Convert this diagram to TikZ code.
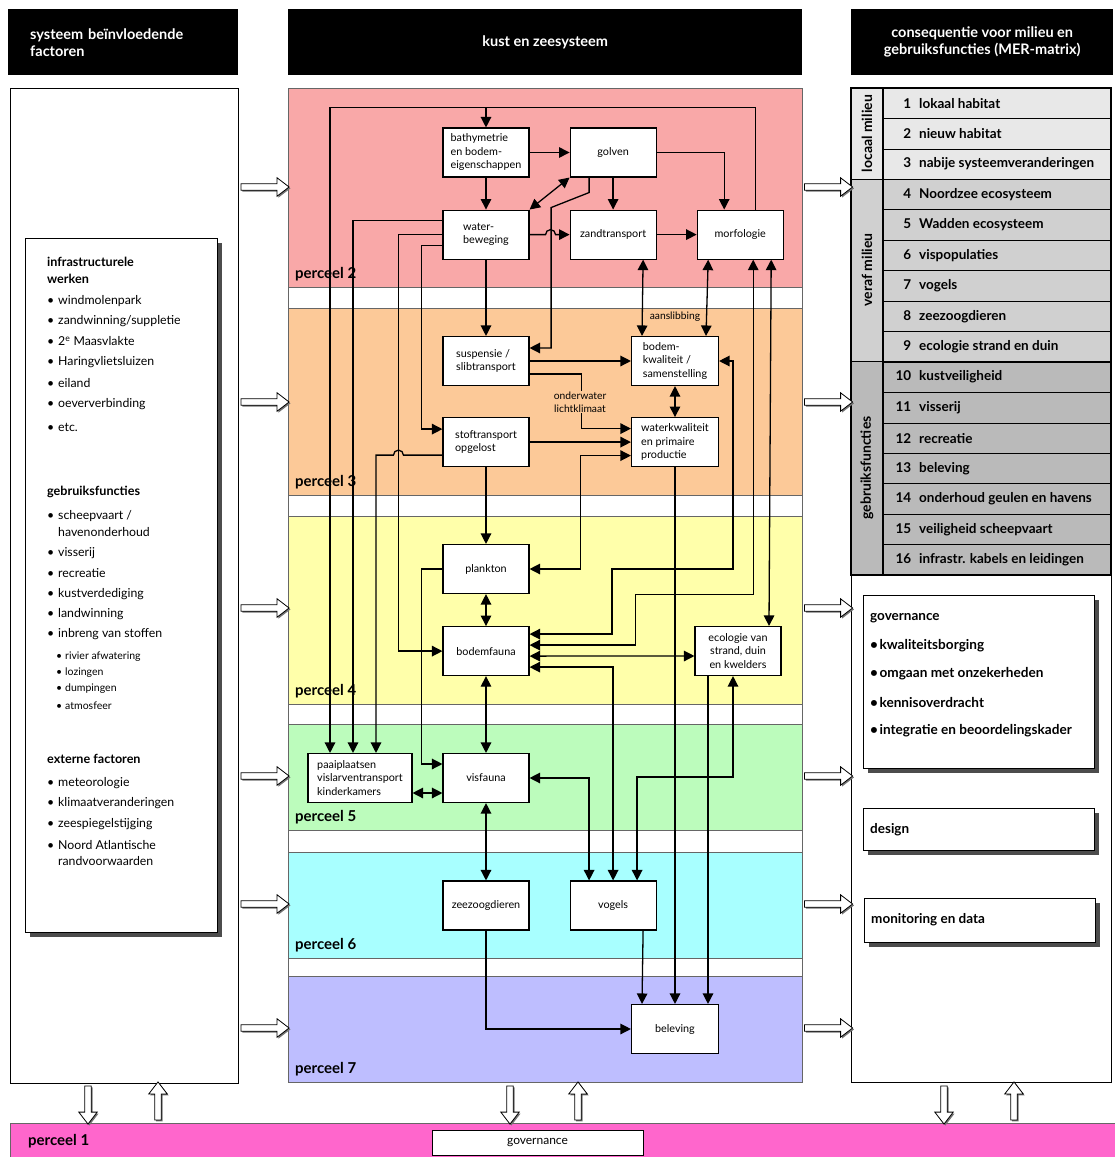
\documentclass[tikz,border=0pt]{standalone}
\usepackage{fontspec}
\setmainfont{Lato}
\usetikzlibrary{positioning,arrows.meta,shapes.arrows,shadows}

\definecolor{p1}{RGB}{255,102,204}
\definecolor{p2}{RGB}{249,168,168}
\definecolor{p3}{RGB}{252,201,152}
\definecolor{p4}{RGB}{255,255,170}
\definecolor{p5}{RGB}{188,252,188}
\definecolor{p6}{RGB}{168,255,255}
\definecolor{p7}{RGB}{190,190,255}
\definecolor{mlicht}{RGB}{232,232,232}
\definecolor{mmid}{RGB}{208,208,208}
\definecolor{mdonker}{RGB}{186,186,186}

\newcommand{\kbul}{\llap{\textbullet\hspace{4pt}}}

\begin{document}
\begin{tikzpicture}[x=1pt, y=-1pt,
  box/.style={draw, fill=white, line width=1.1pt, minimum width=86pt, minimum height=49pt, align=left, inner sep=2pt, font=\fontsize{10.8}{13.5}\selectfont},
  con/.style={line width=1.3pt},
  fat/.style={single arrow, draw, fill=white, line width=0.8pt, minimum height=48pt, single arrow head extend=6pt, single arrow tip angle=75, inner sep=2.8pt, drop shadow={shadow xshift=1.4pt, shadow yshift=-1.4pt, fill=black!55, opacity=1}},
  kop/.style={fill=black, text=white, font=\fontsize{14.5}{17}\selectfont\bfseries, minimum height=66pt, anchor=north west},
  perc/.style={anchor=base west, font=\fontsize{15}{17}\selectfont\bfseries, inner sep=0pt},
  lijst/.style={anchor=west, inner sep=0pt, font=\fontsize{12.3}{14}\selectfont},
  kopje/.style={anchor=west, inner sep=0pt, font=\fontsize{12.6}{14}\selectfont\bfseries},
  sublijst/.style={anchor=west, inner sep=0pt, font=\fontsize{10.5}{12}\selectfont},
  kader/.style={draw, fill=white, line width=1pt, drop shadow={shadow xshift=5pt, shadow yshift=-5pt, fill=black!70, opacity=1}},
  rij/.style={anchor=west, inner sep=0pt, font=\fontsize{13.5}{15}\selectfont\bfseries},
  groep/.style={rotate=90, font=\fontsize{14}{16}\selectfont\bfseries},
  >={Triangle[length=10.5pt, width=10.5pt]}]
\useasboundingbox (0,0) rectangle (1115,1157);

% kopjes
\node[kop, minimum width=230pt, text width=186pt, inner xsep=22pt, align=left] (kopL) at (8,9) {systeem beïnvloedende\\factoren};
\node[kop, minimum width=514pt, align=center] (kopM) at (288,9) {kust en zeesysteem};
\node[kop, minimum width=262pt, align=center] (kopR) at (851,9) {consequentie voor milieu en\\gebruiksfuncties (MER-matrix)};

% linker kolom
\draw[line width=1pt, fill=white] (10,88) rectangle (238,1083);
\draw[kader] (25,238) rectangle (217,932);
\node[kopje] (infra1) at (47,262) {infrastructurele};
\node[kopje] (infra2) at (47,279) {werken};
\node[kopje] (gebr) at (47,492) {gebruiksfuncties};
\node[kopje] (extern) at (47,759) {externe factoren};
\foreach \y/\t [count=\n] in {301/{\kbul windmolenpark}, 321/{\kbul zandwinning/suppletie},
    341/{\kbul 2\textsuperscript{e} Maasvlakte}, 362/{\kbul Haringvlietsluizen}, 383/{\kbul eiland},
    404/{\kbul oeververbinding}, 427/{\kbul etc.}, 516/{\kbul scheepvaart /}, 532/{havenonderhoud},
    553/{\kbul visserij}, 573/{\kbul recreatie}, 594/{\kbul kustverdediging}, 614/{\kbul landwinning},
    634/{\kbul inbreng van stoffen}, 783/{\kbul meteorologie}, 803/{\kbul klimaatveranderingen},
    824/{\kbul zeespiegelstijging}, 845/{\kbul Noord Atlantische}, 861/{randvoorwaarden}}
  \node[lijst] (item\n) at (58,\y) {\t};
\foreach \y/\t [count=\n] in {657/rivier afwatering, 673/lozingen, 689/dumpingen, 706/atmosfeer}
  \node[sublijst] (sub\n) at (65,\y) {\llap{\textbullet\hspace{3pt}}\t};

% middelste kolom: percelen
\foreach \c/\t/\b/\n in {p2/88/287/2, p3/308/495/3, p4/516/704/4, p5/724/830/5, p6/852/958/6, p7/976/1082/7} {
  \draw[fill=\c, draw=black!60, line width=0.6pt] (288,\t) rectangle (802,\b);
  \node[perc] (perc\n) at (295,\b-9) {perceel \n};
}
\draw[draw=black!60, line width=0.8pt] (288,88) rectangle (802,1082);

% boxen
\node[box] (bathy) at (486,152.5) {bathymetrie\\en bodem-\\eigenschappen};
\node[box, right=40pt of bathy] (golven) {golven};
\node[box, below=32pt of bathy] (waterbew) {water-\\beweging};
\node[box, right=40pt of waterbew] (zand) {zandtransport};
\node[box, right=40pt of zand] (morf) {morfologie};
\node[box] (susp) at (486,361) {suspensie /\\slibtransport};
\node[box, minimum width=87pt] (bodemkw) at (675,361) {bodem-\\kwaliteit /\\samenstelling};
\node[box, below=31pt of susp] (stof) {stoftransport\\opgelost};
\node[box, minimum width=87pt, below=31pt of bodemkw] (waterkw) {waterkwaliteit\\en primaire\\productie};
\node[box] (plankton) at (486,569) {plankton};
\node[box, below=32pt of plankton] (bodemf) {bodemfauna};
\node[box, align=center] (ecol) at (738,651) {ecologie van\\strand, duin\\en kwelders};
\node[box] (visf) at (486,778) {visfauna};
\node[box, minimum width=104pt] (paai) at (360,778) {paaiplaatsen\\vislarventransport\\kinderkamers};
\node[box] (zeez) at (486,905.5) {zeezoogdieren};
\node[box, right=40pt of zeez] (vogels) {vogels};
\node[box, minimum width=87pt] (belev) at (675,1029) {beleving};

% verbindingen perceel 2
\draw[con,->] ([xshift=15pt]morf.north) |- ([yshift=20pt]bathy.north) -- (bathy.north);
\draw[con,->] ([yshift=20pt]bathy.north) -| ([xshift=-30pt]paai.north);
\draw[con,->] (bathy) -- (golven);
\draw[con,->] (bathy) -- (waterbew);
\draw[con,<->] (waterbew.north east) -- (golven.south west);
\draw[con,->] (golven) -| ([xshift=-16pt]morf.north);
\draw[con,->] (golven) -- (zand);
\draw[con,->] ([xshift=-24pt]golven.south) -- ++(0,15) -- ++(-38,15) |- ([yshift=13pt]susp.east);
\draw[con,->] (waterbew.east) -- ++(16,0) arc[start angle=180, end angle=360, radius=5] -- (zand);
\draw[con,->] (zand) -- (morf);
\draw[con,->] ([yshift=14pt]waterbew.west) -| ([xshift=-7pt]paai.north);
\draw[con,->] (waterbew.west) -- ++(-44,0) |- (bodemf.west);
\draw[con,->] ([yshift=-11pt]waterbew.west) -- ++(-21,0) |- ([yshift=13pt]stof.west);
\draw[con,->] (waterbew) -- (susp);
\draw[con,<->] ([xshift=30pt]zand.south) -- ([xshift=-33pt]bodemkw.north);
\draw[con,<->] ([xshift=-32pt]morf.south) -- ([xshift=31pt]bodemkw.north);
\draw[con,<->] ([xshift=31pt]morf.south) -- ([xshift=31pt]ecol.north);
\draw[con,<->] ([xshift=13pt]morf.south) -- ++(0,335) -- ++(-118,0) |- ([yshift=6pt]bodemf.east);
\node[font=\fontsize{10.3}{12}\selectfont, inner sep=0pt] (aanslib) at (675,317) {aanslibbing};

% verbindingen perceel 3
\draw[con,->] (susp) -- (bodemkw);
\draw[con,->] ([yshift=-13pt]susp.east) -- ++(52,0) |- ([yshift=13.5pt]waterkw.west);
\node[fill=p3, font=\fontsize{10.3}{13}\selectfont, align=center, inner sep=1pt] (licht) at (580,402) {onderwater\\lichtklimaat};
\draw[con,<->] (bodemkw) -- (waterkw);
\draw[con,->] (stof) -- (waterkw);
\draw[con,->] ([yshift=-13pt]stof.west) -- ++(-39,0) arc[start angle=0, end angle=-180, radius=5] -| ([xshift=16pt]paai.north);
\draw[con,<->] (bodemkw.east) -- ++(14,0) -- ++(0,208) -- ++(-121,0) |- ([yshift=17pt]bodemf.east);
\draw[con,<->] (plankton.east) -- ++(51,0) |- ([yshift=-13.5pt]waterkw.west);
\draw[con,->] (stof) -- (plankton);
\draw[con,->] (waterkw) -- (belev);

% verbindingen perceel 4
\draw[con,<->] (plankton) -- (bodemf);
\draw[con,->] (plankton.west) -- ++(-21,0) |- ([yshift=14pt]visf.west);
\draw[con,<->] ([yshift=-5pt]bodemf.east) -- ([yshift=-5pt]ecol.west);
\draw[con,<->] ([yshift=-16pt]bodemf.east) -| (vogels.north);
\draw[con,<->] (bodemf) -- (visf);
\draw[con,->] ([xshift=-30pt]ecol.south) -- ([xshift=33pt]belev.north);
\draw[con,<->] ([xshift=-5pt]ecol.south) -- ++(0,101) -| ([xshift=24pt]vogels.north);

% verbindingen perceel 5-7
\draw[con,<->] (visf.east) -| ([xshift=-24pt]vogels.north);
\draw[con,<->] ([yshift=-15pt]paai.east) -- ([yshift=-15pt]visf.west);
\draw[con,<->] (visf) -- (zeez);
\draw[con,->] (zeez) |- (belev);
\draw[con,->] ([xshift=30pt]vogels.south) -- ([xshift=-33pt]belev.north);

% rechter kolom: MER-matrix
\draw[line width=1pt, fill=white] (851,88) rectangle (1111,1082);
\foreach \kl/\nr/\tk [count=\k] in {mlicht/1/lokaal habitat, mlicht/2/nieuw habitat,
    mlicht/3/nabije systeemveranderingen, mmid/4/Noordzee ecosysteem, mmid/5/Wadden ecosysteem,
    mmid/6/vispopulaties, mmid/7/vogels, mmid/8/zeezoogdieren, mmid/9/ecologie strand en duin,
    mdonker/10/kustveiligheid, mdonker/11/visserij, mdonker/12/recreatie, mdonker/13/beleving,
    mdonker/14/onderhoud geulen en havens, mdonker/15/veiligheid scheepvaart,
    mdonker/16/infrastr. kabels en leidingen} {
  \draw[fill=\kl, line width=0.6pt] (883,{88+(\k-1)*30.44}) rectangle (1111,{88+\k*30.44});
  \node[rij] (rij\nr) at (919,{88+(\k-0.5)*30.44}) {\llap{\nr\hspace{8pt}}\tk};
}
\draw[fill=mlicht, line width=1.1pt] (851,88) rectangle (883,179.3);
\draw[fill=mmid, line width=1.1pt] (851,179.3) rectangle (883,361.6);
\draw[fill=mdonker, line width=1.1pt] (851,361.6) rectangle (883,575);
\draw[line width=1.3pt] (851,88) rectangle (1111,179.3) (851,179.3) rectangle (1111,361.6)
  (851,361.6) rectangle (1111,575);
\node[groep] (groep1) at (867,133.6) {locaal milieu};
\node[groep] (groep2) at (867,270) {veraf milieu};
\node[groep] (groep3) at (867,468) {gebruiksfuncties};

% governance, design, monitoring
\draw[kader] (863,595) rectangle (1094,768);
\node[rij] (gov0) at (870,618) {governance};
\foreach \y/\t [count=\n] in {646/kwaliteitsborging, 674/omgaan met onzekerheden, 702/kennisoverdracht, 731/integratie en beoordelingskader}
  \node[rij, font=\fontsize{13.6}{15}\selectfont\bfseries] (gov\n) at (870,\y) {\textbullet\hspace{1.5pt}\t};
\draw[kader] (863,808) rectangle (1094,850);
\node[rij] (design) at (870,830) {design};
\draw[kader] (864,898) rectangle (1095,942);
\node[rij] (monitor) at (871,920) {monitoring en data};

% perceel 1
\draw[fill=p1, draw=black!60, line width=0.6pt] (10,1123) rectangle (1115,1157);
\node[perc, anchor=west] (perc1) at (28,1141) {perceel 1};
\node[draw, fill=white, line width=0.6pt, minimum width=211pt, minimum height=25pt, font=\fontsize{12}{14}\selectfont] (govbalk) at (537.5,1142.5) {governance};

% dikke pijlen
\foreach \y [count=\i] in {187,402,608,776,904,1028} {
  \node[fat] (inL\i) at (263,\y) {};
  \node[fat] (uitR\i) at (826.5,\y) {};
}
\foreach \x/\r [count=\i] in {88/-90, 158/90, 510/-90, 578/90, 944/-90, 1014/90}
  \node[fat, minimum height=38pt, rotate=\r] (vert\i) at (\x,1103) {};
\end{tikzpicture}
\end{document}
